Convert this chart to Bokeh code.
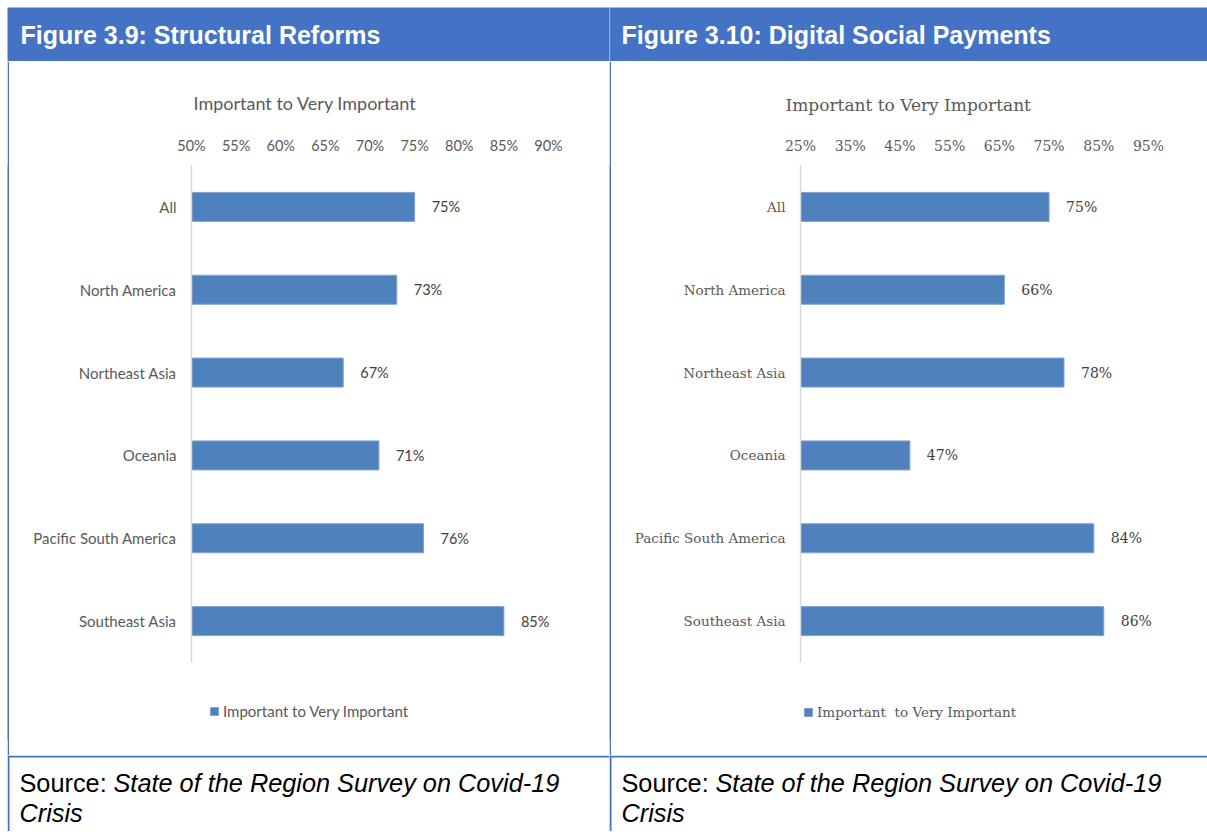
from bokeh.plotting import figure
from bokeh.models import (ColumnDataSource, Range1d, FixedTicker,
                          NumeralTickFormatter, Legend, LegendItem, Spacer)
from bokeh.layouts import row, column
from bokeh.embed import file_html
from bokeh.resources import INLINE
from bokeh.core.properties import value

# ---------------- data ----------------
regions = ["All", "North America", "Northeast Asia", "Oceania",
           "Pacific South America", "Southeast Asia"]
structural_reforms = [0.75, 0.73, 0.67, 0.71, 0.76, 0.85]
digital_social_payments = [0.75, 0.66, 0.78, 0.47, 0.84, 0.86]
left_ticks = [0.50, 0.55, 0.60, 0.65, 0.70, 0.75, 0.80, 0.85, 0.90]
right_ticks = [0.25, 0.35, 0.45, 0.55, 0.65, 0.75, 0.85, 0.95]
series_left = "Important to Very Important"
series_right = "Important  to Very Important"
header_left = "Figure 3.9: Structural Reforms"
header_right = "Figure 3.10: Digital Social Payments"
source_prefix = "Source:"
source_line1 = "State of the Region Survey on Covid-19"
source_line2 = "Crisis"

BLUE_HDR = "#4472C4"
BAR = "#4F81BD"
GRAY = "#595959"
DARK = "#404040"

CH_H = 694          # chart figure height
TOP = 104           # space above the plotting frame
BOTTOM = 15         # space below the plotting frame
ROW_PX = 497 / len(regions)   # height of one category band


def canvas(w, h, fill):
    p = figure(width=w, height=h, x_range=Range1d(0, w), y_range=Range1d(h, 0),
               output_backend="svg", toolbar_location=None, min_border=0,
               x_axis_type=None, y_axis_type=None,
               background_fill_color=fill, border_fill_color=fill,
               outline_line_color=None)
    return p


def chart(values, ticks, start, end, width, mb_left, mb_right, font,
          ylab_size, tick_size, val_size, title_text, title_size, title_offset,
          legend_x, legend_size):
    frame_h = CH_H - TOP - BOTTOM
    y_bottom = -0.5 + frame_h / ROW_PX
    p = figure(width=width, height=CH_H,
               y_range=Range1d(y_bottom, -0.5),
               x_range=Range1d(start, end), x_axis_location="above",
               output_backend="svg", toolbar_location=None,
               min_border_left=mb_left, min_border_right=mb_right,
               min_border_top=TOP, min_border_bottom=BOTTOM,
               outline_line_color=None, background_fill_color="white",
               border_fill_color="white")
    src = ColumnDataSource(dict(pos=list(range(len(regions))), region=regions,
                                value=values,
                                label=[f"{round(v * 100)}%" for v in values]))
    r = p.hbar(y="pos", left=ticks[0], right="value", height=0.35, source=src,
               fill_color=BAR, line_color="#7EA3D3", line_width=1)
    p.text(x="value", y="pos", text="label", source=src, x_offset=17,
           text_baseline="middle", text_align="left",
           text_font=value(font), text_font_size=val_size, text_color=DARK)

    p.xaxis.ticker = FixedTicker(ticks=ticks)
    p.xaxis.formatter = NumeralTickFormatter(format="0%")
    p.xaxis.axis_line_color = None
    p.xaxis.major_tick_line_color = None
    p.xaxis.minor_tick_line_color = None
    p.xaxis.major_tick_out = 0
    p.xaxis.major_label_standoff = 12
    p.xaxis.major_label_text_font = font
    p.xaxis.major_label_text_font_size = tick_size
    p.xaxis.major_label_text_color = GRAY

    p.yaxis.ticker = FixedTicker(ticks=list(range(len(regions))))
    p.yaxis.major_label_overrides = {i: name for i, name in enumerate(regions)}
    p.yaxis.bounds = (-0.5, len(regions) - 0.5)
    p.yaxis.axis_line_color = "#D9D9D9"
    p.yaxis.axis_line_width = 1.5
    p.yaxis.major_tick_line_color = None
    p.yaxis.minor_tick_line_color = None
    p.yaxis.major_tick_out = 0
    p.yaxis.major_label_standoff = 15
    p.yaxis.major_label_text_font = font
    p.yaxis.major_label_text_font_size = ylab_size
    p.yaxis.major_label_text_color = GRAY

    p.xgrid.visible = False
    p.ygrid.visible = False

    p.title.text = title_text
    p.title.align = "left"
    p.title.offset = title_offset
    p.title.text_font = font
    p.title.text_font_style = "normal"
    p.title.text_font_size = title_size
    p.title.text_color = GRAY
    p.title.standoff = 40

    legend = Legend(items=[LegendItem(label=title_text, renderers=[r])],
                    location=(legend_x, 20), orientation="horizontal",
                    border_line_color=None, background_fill_alpha=0,
                    padding=0, margin=0, spacing=0,
                    glyph_width=10, glyph_height=10, label_standoff=4,
                    label_text_font=font, label_text_font_size=legend_size,
                    label_text_color=GRAY)
    p.add_layout(legend, "center")
    return p


# headers
hdrL = canvas(602, 54, BLUE_HDR)
hdrL.text(x=[13], y=[27], text=[header_left], text_font=value("Liberation Sans"),
          text_font_style="bold", text_font_size="25px", text_color="white",
          text_baseline="middle")
hdrR = canvas(598, 54, BLUE_HDR)
hdrR.segment(x0=[0.5], y0=[0], x1=[0.5], y1=[54], line_color="#5E88D0", line_width=1)
hdrR.text(x=[12], y=[27], text=[header_right], text_font=value("Liberation Sans"),
          text_font_style="bold", text_font_size="25px", text_color="white",
          text_baseline="middle")


def vstrip():
    return canvas(2, CH_H, BLUE_HDR)


# left: 50%..90% spans 357 px; right: 25%..95% spans 348 px
chartL = chart(structural_reforms, left_ticks, 0.50, 0.50 + 408 * 0.40 / 357, 600,
               182, 10, "Lato", "15px", "14.5px", "14.5px", series_left, "18px",
               2, 18, "15px")
chartR = chart(digital_social_payments, right_ticks, 0.25, 0.25 + 397 * 0.70 / 348,
               596, 189, 10, "DejaVu Serif", "13.5px", "14px", "14px",
               series_right, "17px", -15, 3, "13.5px")


def source_box(w):
    p = canvas(w, 76, "white")
    p.segment(x0=[0, 1], y0=[1, 0], x1=[w, 1], y1=[1, 76], line_color=BLUE_HDR,
              line_width=2)
    p.text(x=[12], y=[27], text=[source_prefix], text_font=value("Liberation Sans"),
           text_font_size="25.3px", text_color="black", text_baseline="middle")
    p.text(x=[106], y=[27], text=[source_line1], text_font=value("Liberation Sans"),
           text_font_style="italic", text_font_size="25.3px", text_color="black",
           text_baseline="middle")
    p.text(x=[12], y=[57], text=[source_line2], text_font=value("Liberation Sans"),
           text_font_style="italic", text_font_size="25.3px", text_color="black",
           text_baseline="middle")
    return p


srcL = source_box(602)
srcR = source_box(598)

content = column(row(hdrL, hdrR, spacing=0),
                 row(vstrip(), chartL, vstrip(), chartR, spacing=0),
                 row(srcL, srcR, spacing=0),
                 spacing=0)
layout = column(Spacer(height=7),
                row(Spacer(width=7), content, spacing=0),
                spacing=0)

open("out.html", "w").write(file_html(layout, INLINE))
